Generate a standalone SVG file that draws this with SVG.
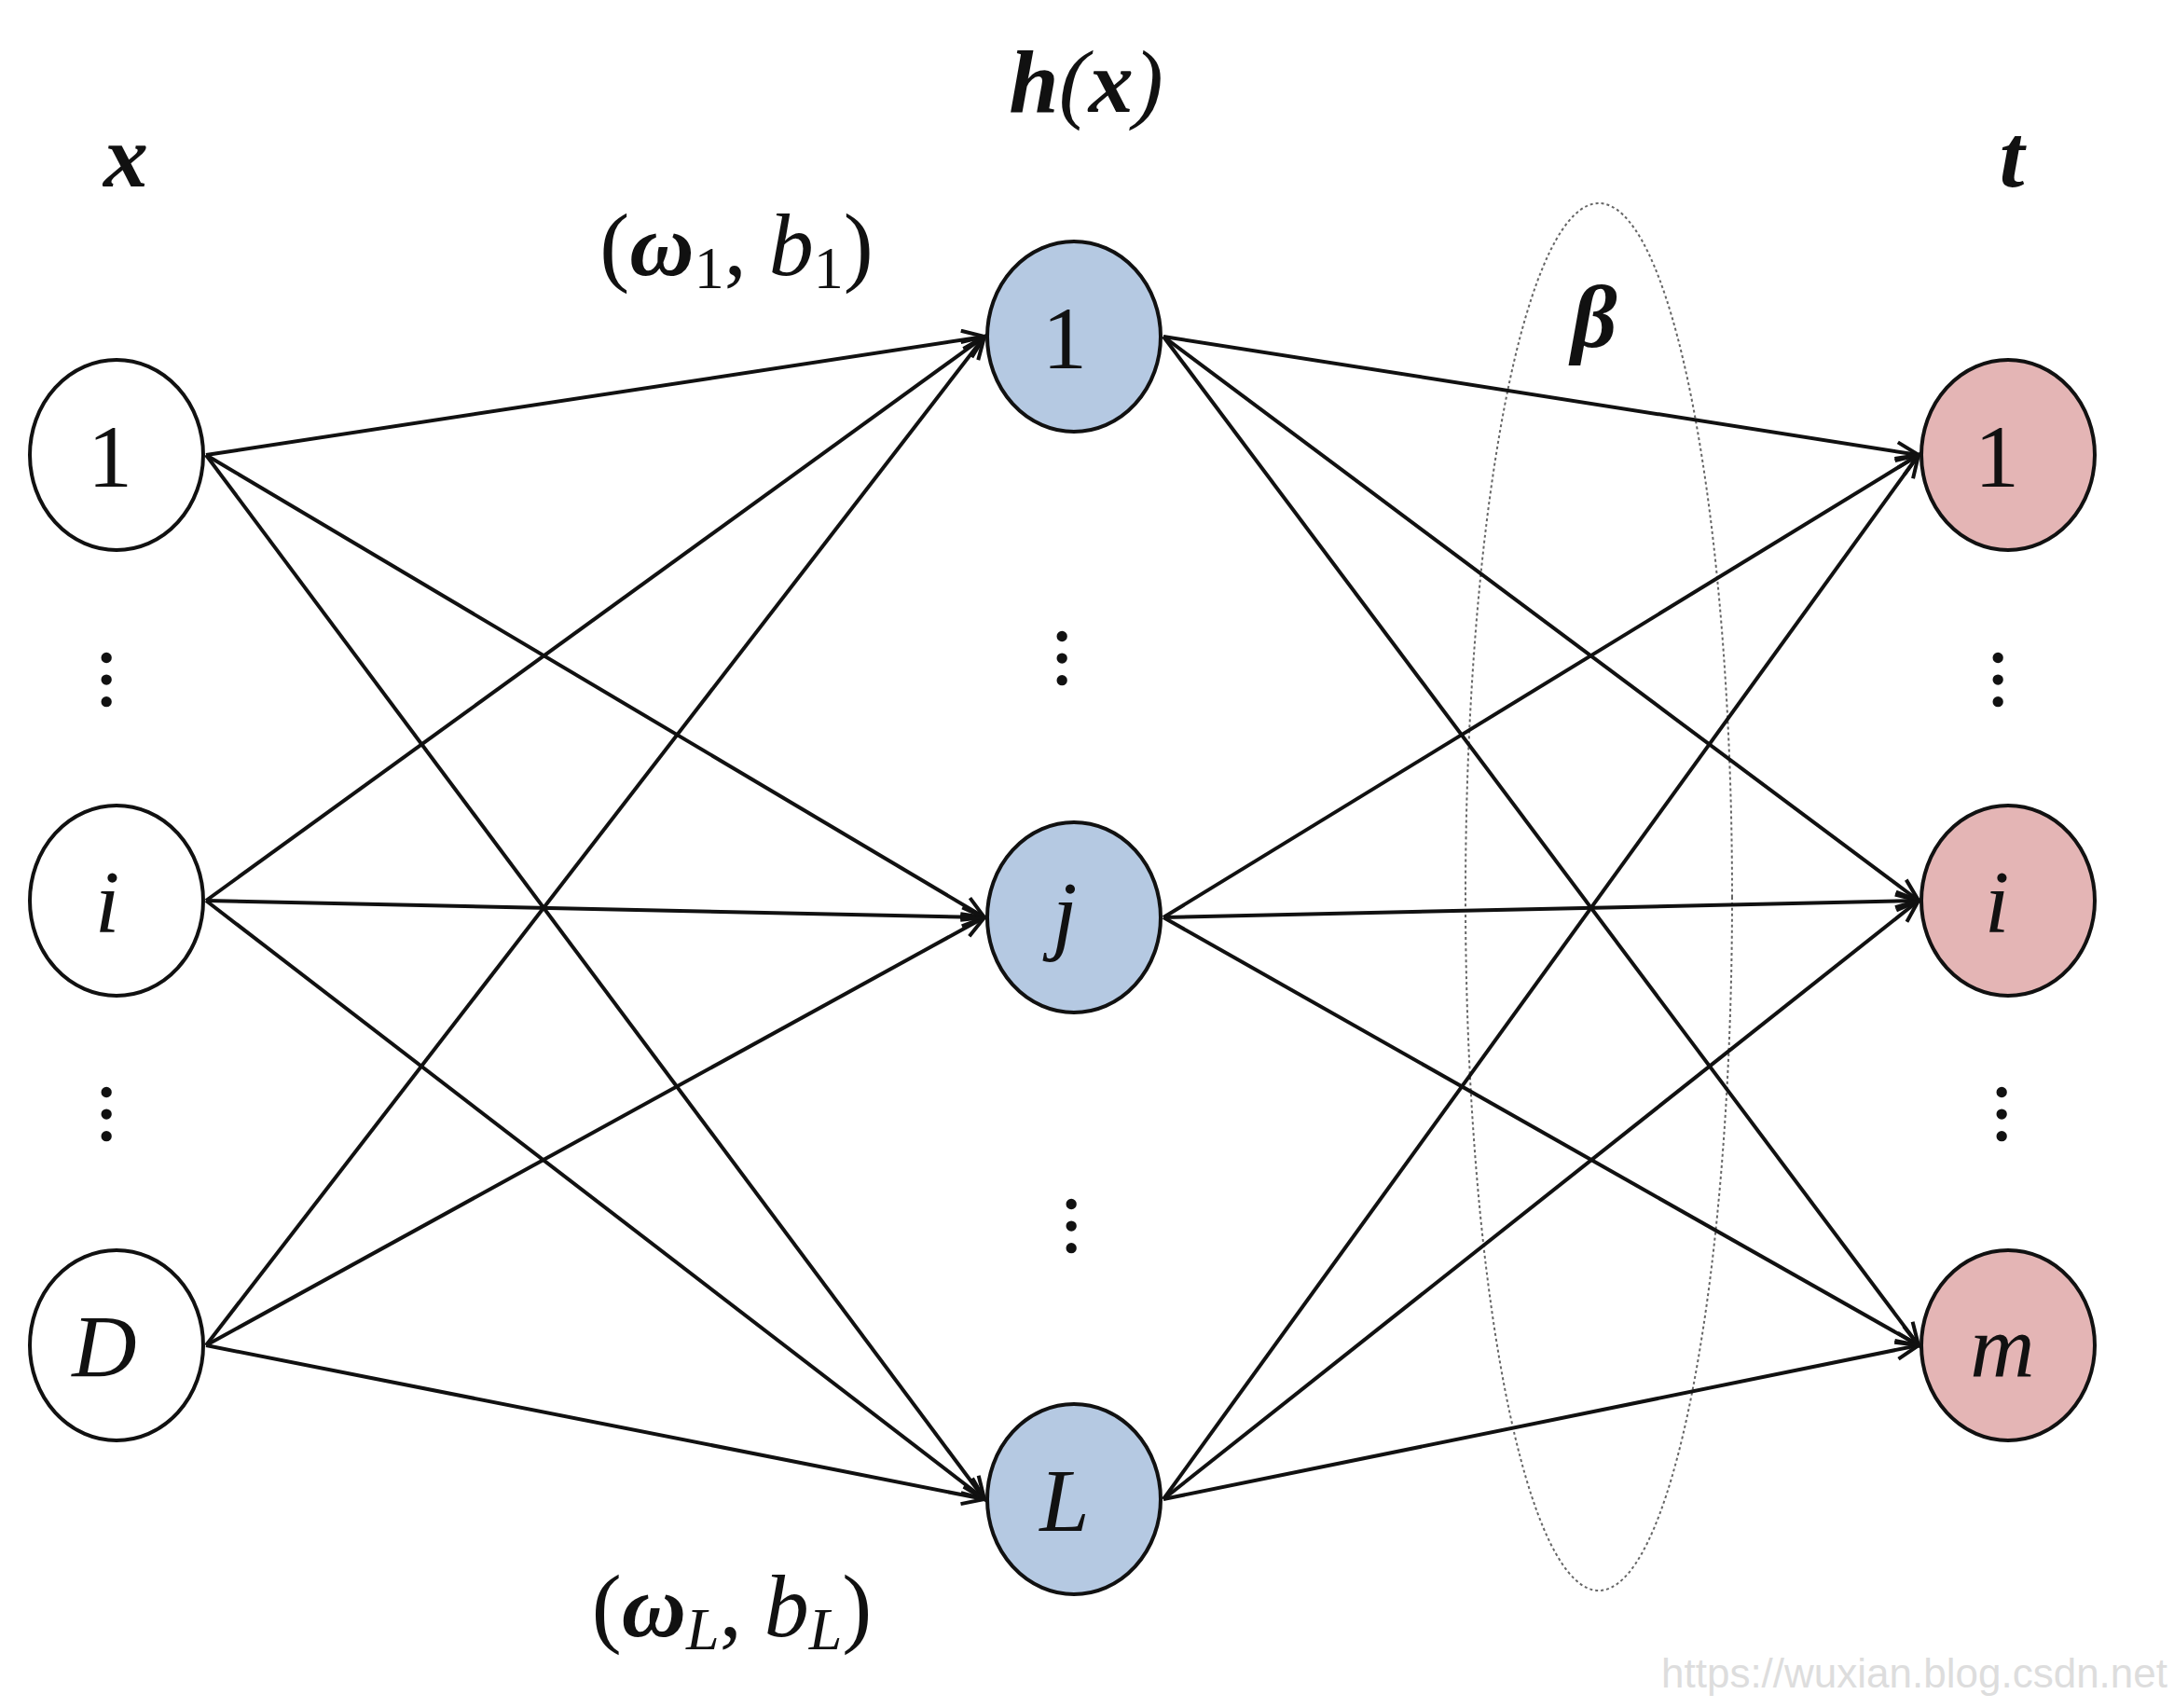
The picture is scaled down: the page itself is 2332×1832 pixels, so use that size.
<svg xmlns="http://www.w3.org/2000/svg" width="2332" height="1832" viewBox="0 0 2332 1832">
<style>
.n{stroke:#111;stroke-width:4}
.t{font-family:"Liberation Serif",serif;font-size:96px;text-anchor:middle;fill:#111}
.it{font-style:italic}
.b{font-weight:bold;font-style:italic}
.e{stroke:#111;stroke-width:4;fill:none;marker-end:url(#a)}
.d{font-family:"Liberation Serif",serif;font-size:70px;text-anchor:middle;font-weight:bold;fill:#111}
</style>
<defs><marker id="a" markerWidth="30" markerHeight="30" refX="26" refY="12" orient="auto" markerUnits="userSpaceOnUse"><path d="M2,2 L26,12 L2,22" fill="none" stroke="#111" stroke-width="4"/></marker></defs>
<rect width="2332" height="1832" fill="#fff"/>
<ellipse cx="1715" cy="962" rx="143" ry="744" fill="none" stroke="#666" stroke-width="2" stroke-dasharray="3,3"/>
<g id="edges">
<path class="e" d="M221,488 L1056,361"/><path class="e" d="M221,488 L1056,984"/><path class="e" d="M221,488 L1056,1608"/>
<path class="e" d="M221,966 L1056,361"/><path class="e" d="M221,966 L1056,984"/><path class="e" d="M221,966 L1056,1608"/>
<path class="e" d="M221,1443 L1056,361"/><path class="e" d="M221,1443 L1056,984"/><path class="e" d="M221,1443 L1056,1608"/>
<path class="e" d="M1248,361 L2058,488"/><path class="e" d="M1248,361 L2058,966"/><path class="e" d="M1248,361 L2058,1443"/>
<path class="e" d="M1248,984 L2058,488"/><path class="e" d="M1248,984 L2058,966"/><path class="e" d="M1248,984 L2058,1443"/>
<path class="e" d="M1248,1608 L2058,488"/><path class="e" d="M1248,1608 L2058,966"/><path class="e" d="M1248,1608 L2058,1443"/>
</g>
<g id="in1"><ellipse class="n" cx="125" cy="488" rx="93" ry="102" fill="#fff"/><text class="t" x="118" y="522">1</text></g>
<g id="ini"><ellipse class="n" cx="125" cy="966" rx="93" ry="102" fill="#fff"/><text class="t it" x="115" y="1000">i</text></g>
<g id="inD"><ellipse class="n" cx="125" cy="1443" rx="93" ry="102" fill="#fff"/><text class="t it" x="112" y="1477">D</text></g>
<g id="h1"><ellipse class="n" cx="1152" cy="361" rx="93" ry="102" fill="#b5c9e2"/><text class="t" x="1142" y="395">1</text></g>
<g id="hj"><ellipse class="n" cx="1152" cy="984" rx="93" ry="102" fill="#b5c9e2"/><text class="t it" x="1142" y="1012">j</text></g>
<g id="hL"><ellipse class="n" cx="1152" cy="1608" rx="93" ry="102" fill="#b5c9e2"/><text class="t it" x="1142" y="1642">L</text></g>
<g id="o1"><ellipse class="n" cx="2154" cy="488" rx="93" ry="102" fill="#e4b5b5"/><text class="t" x="2142" y="522">1</text></g>
<g id="oi"><ellipse class="n" cx="2154" cy="966" rx="93" ry="102" fill="#e4b5b5"/><text class="t it" x="2142" y="1000">i</text></g>
<g id="om"><ellipse class="n" cx="2154" cy="1443" rx="93" ry="102" fill="#e4b5b5"/><text class="t it" x="2148" y="1477">m</text></g>
<g id="labels">
<text class="t b" x="135" y="200" font-size="104">x</text>
<text class="t b" x="1165" y="120" font-size="104"><tspan>h</tspan><tspan font-weight="normal">(</tspan>x<tspan font-weight="normal">)</tspan></text>
<text class="t b" x="2158" y="200" font-size="104">t</text>
<text class="t b" x="1710" y="372" font-size="104">β</text>
<text class="t" x="790" y="295" font-size="104">(<tspan class="b">ω</tspan><tspan font-size="64" dy="14">1</tspan><tspan dy="-14">, </tspan><tspan class="it">b</tspan><tspan font-size="64" dy="14">1</tspan><tspan dy="-14">)</tspan></text>
<text class="t" x="785" y="1755" font-size="104">(<tspan class="b">ω</tspan><tspan class="it" font-size="64" dy="14">L</tspan><tspan dy="-14">, </tspan><tspan class="it">b</tspan><tspan class="it" font-size="64" dy="14">L</tspan><tspan dy="-14">)</tspan></text>
<text class="d" x="125" y="745" transform="rotate(90 125 729)">…</text>
<text class="d" x="125" y="1211" transform="rotate(90 125 1195)">…</text>
<text class="d" x="1150" y="722" transform="rotate(90 1150 706)">…</text>
<text class="d" x="1160" y="1331" transform="rotate(90 1160 1315)">…</text>
<text class="d" x="2154" y="745" transform="rotate(90 2154 729)">…</text>
<text class="d" x="2158" y="1211" transform="rotate(90 2158 1195)">…</text>
<text x="2325" y="1810" font-family="Liberation Sans,sans-serif" font-size="44" fill="#ddd" text-anchor="end">https://wuxian.blog.csdn.net</text>
</g>
</svg>
